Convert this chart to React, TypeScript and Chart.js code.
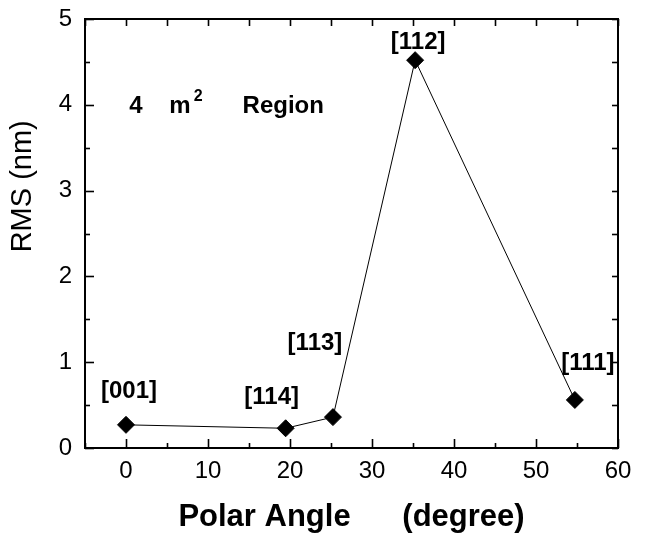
import React, { useEffect, useRef } from 'react';
import { Chart, registerables } from 'chart.js';

Chart.register(...registerables);

// ---- data ----
const polarAngles = [0, 19.47, 25.24, 35.26, 54.74];
const rmsValues = [0.27, 0.23, 0.36, 4.52, 0.56];
const directionLabels = ['[001]', '[114]', '[113]', '[112]', '[111]'];
const xRange = [-5, 60];
const yRange = [0, 5];
const xMajorStep = 10;
const xMinorStep = 5;
const yMajorStep = 1;
const yMinorStep = 0.5;
const xTitle = 'Polar Angle      (degree)';
const yTitle = 'RMS (nm)';
const annotationMain = '4    m';
const annotationSup = '2';
const annotationTail = '      Region';
const annotationAt = [0.4, 4.0];

// ---- style (pixel offsets for point labels) ----
const labelOffsets: [number, number][] = [
  [3, -33],
  [-14, -31],
  [-18, -74],
  [3, -18],
  [13, -37],
];

const FONT = '"Liberation Sans", Arial, Helvetica, sans-serif';

const decorPlugin = {
  id: 'decor',
  afterDraw(chart: any) {
    const { ctx, chartArea: a, scales } = chart;
    const x = scales.x;
    const y = scales.y;
    ctx.save();
    ctx.strokeStyle = '#000';
    ctx.lineWidth = 1.6;
    const seg = (x1: number, y1: number, x2: number, y2: number) => {
      ctx.beginPath();
      ctx.moveTo(x1, y1);
      ctx.lineTo(x2, y2);
      ctx.stroke();
    };
    for (let v = xRange[0]; v <= xRange[1] + 1e-9; v += xMinorStep) {
      const px = Math.round(x.getPixelForValue(v)) + 0.5;
      const major = Math.abs(v % xMajorStep) < 1e-9;
      seg(px, a.bottom, px, a.bottom - (major ? 9 : 5));
      seg(px, a.top, px, a.top + 7);
    }
    for (let v = yRange[0]; v <= yRange[1] + 1e-9; v += yMinorStep) {
      const py = Math.round(y.getPixelForValue(v)) + 0.5;
      const major = Math.abs(v % yMajorStep) < 1e-9;
      seg(a.left, py, a.left + (major ? 9 : 5), py);
      seg(a.right, py, a.right - 6, py);
    }
    ctx.lineWidth = 2;
    ctx.strokeRect(a.left, a.top, a.right - a.left, a.bottom - a.top);

    ctx.fillStyle = '#000';

    // y axis title (sits above the axis centre, as in the original)
    ctx.save();
    ctx.translate(y.left + 23, a.top + (a.bottom - a.top) * 0.39);
    ctx.rotate(-Math.PI / 2);
    ctx.font = `29px ${FONT}`;
    ctx.textAlign = 'center';
    ctx.textBaseline = 'middle';
    ctx.fillText(yTitle, 0, 0);
    ctx.restore();

    // point labels
    ctx.font = `bold 24px ${FONT}`;
    ctx.textAlign = 'center';
    ctx.textBaseline = 'middle';
    directionLabels.forEach((t, i) => {
      const px = x.getPixelForValue(polarAngles[i]) + labelOffsets[i][0];
      const py = y.getPixelForValue(rmsValues[i]) + labelOffsets[i][1];
      ctx.fillText(t, px, py);
    });

    // region annotation
    ctx.textAlign = 'left';
    ctx.textBaseline = 'alphabetic';
    let ax = x.getPixelForValue(annotationAt[0]);
    const ay = y.getPixelForValue(annotationAt[1]) + 8;
    ctx.font = `bold 24px ${FONT}`;
    ctx.fillText(annotationMain, ax, ay);
    ax += ctx.measureText(annotationMain).width + 3;
    ctx.font = `bold 16px ${FONT}`;
    ctx.fillText(annotationSup, ax, ay - 12);
    ax += ctx.measureText(annotationSup).width;
    ctx.font = `bold 24px ${FONT}`;
    ctx.fillText(annotationTail, ax, ay);
    ctx.restore();
  },
};

export default function App() {
  const canvasRef = useRef<HTMLCanvasElement | null>(null);

  useEffect(() => {
    if (!canvasRef.current) return;
    const chart = new Chart(canvasRef.current, {
      type: 'scatter',
      data: {
        datasets: [
          {
            data: polarAngles.map((a, i) => ({ x: a, y: rmsValues[i] })),
            showLine: true,
            borderColor: '#000',
            borderWidth: 1,
            backgroundColor: '#000',
            pointStyle: 'rectRot',
            pointRadius: 8.5,
            pointBorderWidth: 1,
            pointBackgroundColor: '#000',
            pointBorderColor: '#000',
            tension: 0,
          },
        ],
      },
      options: {
        animation: false,
        responsive: true,
        maintainAspectRatio: false,
        layout: { padding: { top: 19, right: 28, bottom: 0, left: 0 } },
        plugins: {
          legend: { display: false },
          tooltip: { enabled: false },
        },
        scales: {
          x: {
            type: 'linear',
            min: xRange[0],
            max: xRange[1],
            grid: { display: false, drawTicks: false },
            border: { display: false },
            ticks: {
              stepSize: xMinorStep,
              autoSkip: false,
              maxRotation: 0,
              padding: 9,
              color: '#000',
              font: { family: FONT, size: 24 },
              callback: (v: any) =>
                Number(v) >= 0 && Math.abs(Number(v) % xMajorStep) < 1e-9 ? String(v) : '',
            },
            title: {
              display: true,
              text: xTitle,
              color: '#000',
              font: { family: FONT, size: 31, weight: 'bold' },
              padding: { top: 0, bottom: 1 },
            },
            afterFit: (s: any) => {
              s.height = 89;
              s.paddingLeft = 0;
              s.paddingRight = 0;
            },
          },
          y: {
            type: 'linear',
            min: yRange[0],
            max: yRange[1],
            grid: { display: false, drawTicks: false },
            border: { display: false },
            ticks: {
              stepSize: yMinorStep,
              autoSkip: false,
              padding: 13,
              color: '#000',
              font: { family: FONT, size: 24 },
              callback: (v: any) =>
                Math.abs(Number(v) % yMajorStep) < 1e-9 ? String(v) : '',
            },
            title: { display: false },
            afterFit: (s: any) => {
              s.width = 85;
              s.paddingTop = 0;
              s.paddingBottom = 0;
            },
          },
        },
      } as any,
      plugins: [decorPlugin],
    });
    return () => chart.destroy();
  }, []);

  return (
    <div style={{ position: 'absolute', left: 0, top: 0, width: 646, height: 537, background: '#fff' }}>
      <canvas ref={canvasRef} />
    </div>
  );
}
